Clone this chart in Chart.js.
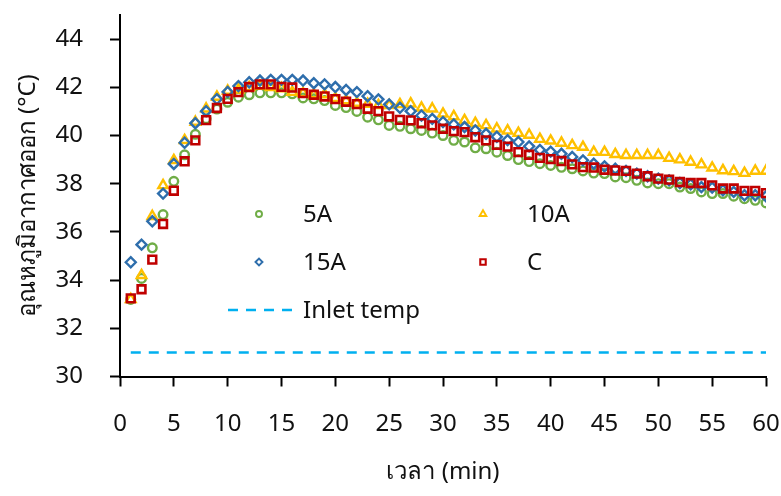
<!DOCTYPE html>
<html>
<head>
<meta charset="utf-8">
<script src="https://cdn.jsdelivr.net/npm/chart.js@4/dist/chart.umd.min.js"></script>
<style>
  html, body { margin: 0; padding: 0; background: #fff; }
  #wrap { width: 781px; height: 496px; }
</style>
</head>
<body>
<div id="wrap"><canvas id="chart" width="781" height="496"></canvas></div>
<script>
const minutes = [1,2,3,4,5,6,7,8,9,10,11,12,13,14,15,16,17,18,19,20,21,22,23,24,25,26,27,28,29,30,
  31,32,33,34,35,36,37,38,39,40,41,42,43,44,45,46,47,48,49,50,51,52,53,54,55,56,57,58,59,60];

const temp5A = [33.2,34.07,35.34,36.72,38.1,39.2,40.05,40.7,41.1,41.38,41.59,41.69,41.77,41.77,41.77,41.73,41.56,41.52,41.45,41.25,
  41.16,41.0,40.76,40.65,40.42,40.38,40.28,40.21,40.1,40.0,39.8,39.73,39.49,39.45,39.31,39.17,39.0,38.92,38.83,38.76,
  38.68,38.62,38.53,38.44,38.42,38.28,38.25,38.14,38.03,38.0,38.0,37.86,37.8,37.66,37.59,37.59,37.48,37.38,37.31,37.2];

const temp10A = [33.2,34.2,36.65,37.93,38.97,39.8,40.56,41.11,41.6,41.85,41.9,42.0,42.05,42.0,41.95,41.8,41.75,41.7,41.7,41.55,
  41.45,41.35,41.3,41.25,41.25,41.29,41.32,41.15,41.11,40.9,40.79,40.63,40.51,40.42,40.28,40.2,40.1,40.02,39.85,39.78,
  39.69,39.59,39.52,39.31,39.31,39.22,39.18,39.18,39.18,39.18,39.06,39.0,38.9,38.79,38.66,38.55,38.51,38.44,38.53,38.53];

const temp15A = [34.74,35.47,36.44,37.59,38.82,39.7,40.51,41.01,41.51,41.81,42.05,42.21,42.28,42.31,42.31,42.31,42.28,42.17,42.12,42.01,
  41.89,41.8,41.63,41.5,41.29,41.15,41.01,40.83,40.69,40.56,40.46,40.35,40.21,40.07,39.95,39.81,39.73,39.55,39.4,39.33,
  39.24,39.11,38.97,38.83,38.72,38.62,38.53,38.42,38.31,38.21,38.14,38.03,37.97,37.86,37.84,37.73,37.66,37.52,37.52,37.48];

const tempC = [33.24,33.62,34.85,36.33,37.71,38.93,39.8,40.64,41.14,41.52,41.8,42.01,42.12,42.12,42.02,41.99,41.76,41.69,41.62,41.51,
  41.4,41.3,41.11,41.01,40.79,40.65,40.63,40.51,40.42,40.28,40.18,40.14,39.93,39.8,39.61,39.54,39.31,39.2,39.07,39.02,
  38.94,38.8,38.69,38.67,38.58,38.55,38.53,38.42,38.31,38.21,38.17,38.07,38.03,38.03,37.93,37.8,37.8,37.7,37.7,37.61];

const inletTemp = [31,31,31,31,31,31,31,31,31,31,31,31,31,31,31,31,31,31,31,31,
  31,31,31,31,31,31,31,31,31,31,31,31,31,31,31,31,31,31,31,31,
  31,31,31,31,31,31,31,31,31,31,31,31,31,31,31,31,31,31,31,31];

const seriesNames = ['5A', '10A', '15A', 'C', 'Inlet temp'];
const xTicks = [0,5,10,15,20,25,30,35,40,45,50,55,60];
const yTicks = [30,32,34,36,38,40,42,44];

const FONT = "'Noto Sans', 'DejaVu Sans', sans-serif";
const FSIZE = 24;
const DASH = [10, 8];

function pts(values) {
  return values.map((v, i) => ({ x: minutes[i], y: v }));
}

function scatterSet(label, values, color, style, radius, bw, order) {
  return {
    label: label,
    data: pts(values),
    showLine: false,
    pointStyle: style,
    pointRadius: radius,
    pointHoverRadius: radius,
    pointBorderColor: color,
    pointBackgroundColor: 'rgba(0,0,0,0)',
    pointBorderWidth: bw,
    borderColor: color,
    backgroundColor: 'rgba(0,0,0,0)',
    order: order
  };
}

const datasets = [
  scatterSet(seriesNames[0], temp5A, '#70ad47', 'circle', 4.3, 2.4, 4),
  scatterSet(seriesNames[1], temp10A, '#ffc000', 'triangle', 5.5, 2.4, 3),
  scatterSet(seriesNames[2], temp15A, '#2e6eac', 'rectRot', 5, 2.4, 2),
  scatterSet(seriesNames[3], tempC, '#c00000', 'rect', 5.5, 2.6, 1),
  {
    label: seriesNames[4],
    data: pts(inletTemp),
    showLine: true,
    borderColor: '#00b0f0',
    borderWidth: 2.5,
    borderDash: DASH,
    pointRadius: 0,
    fill: false,
    order: 5
  }
];

// legend sits inside the plot, two columns
const legendPlugin = {
  id: 'insideLegend',
  afterDraw(chart) {
    const ctx = chart.ctx;
    const spots = [
      { ds: 0, mx: 259, tx: 303, y: 215 },
      { ds: 1, mx: 483, tx: 527, y: 215 },
      { ds: 2, mx: 259, tx: 303, y: 263 },
      { ds: 3, mx: 483, tx: 527, y: 263 },
      { ds: 4, mx: 260, tx: 303, y: 311 }
    ];
    spots.forEach(s => {
      const d = chart.data.datasets[s.ds];
      ctx.save();
      if (d.showLine) {
        ctx.strokeStyle = d.borderColor;
        ctx.lineWidth = d.borderWidth;
        ctx.setLineDash(DASH);
        ctx.beginPath();
        ctx.moveTo(228, s.y - 1);
        ctx.lineTo(294, s.y - 1);
        ctx.stroke();
      } else {
        ctx.strokeStyle = d.pointBorderColor;
        ctx.fillStyle = 'rgba(0,0,0,0)';
        ctx.lineWidth = d.pointBorderWidth * 0.8;
        Chart.helpers.drawPoint(ctx, {
          pointStyle: d.pointStyle,
          radius: d.pointRadius * 0.7,
          borderWidth: d.pointBorderWidth * 0.8,
          rotation: 0
        }, s.mx, s.y - 1);
      }
      ctx.restore();
      ctx.save();
      ctx.font = FSIZE + 'px ' + FONT;
      ctx.fillStyle = '#111';
      ctx.textBaseline = 'middle';
      ctx.textAlign = 'left';
      ctx.fillText(d.label, s.tx, s.y);
      ctx.restore();
    });
  }
};

new Chart(document.getElementById('chart'), {
  type: 'scatter',
  data: { datasets: datasets },
  options: {
    responsive: false,
    animation: false,
    layout: { padding: { top: 15, right: 15, left: 0, bottom: 0 } },
    plugins: {
      legend: { display: false },
      tooltip: { enabled: false }
    },
    scales: {
      x: {
        type: 'linear',
        min: 0,
        max: 60,
        afterFit: s => { s.height = 119.5; s.paddingLeft = 0; s.paddingRight = 0; },
        afterBuildTicks: s => { s.ticks = xTicks.map(v => ({ value: v })); },
        border: { color: '#000', width: 2 },
        grid: { drawOnChartArea: false, drawTicks: true, tickLength: 10, tickColor: '#000', tickWidth: 2 },
        ticks: { color: '#111', padding: 23, font: { family: FONT, size: FSIZE }, maxRotation: 0 },
        title: {
          display: true,
          text: 'เวลา (min)',
          color: '#111',
          font: { family: FONT, size: FSIZE },
          padding: { top: 0, bottom: 9 }
        }
      },
      y: {
        min: 30,
        max: 45,
        afterFit: s => { s.width = 120; s.paddingTop = 0; s.paddingBottom = 0; },
        afterBuildTicks: s => { s.ticks = yTicks.map(v => ({ value: v })); },
        border: { color: '#000', width: 2 },
        grid: { drawOnChartArea: false, drawTicks: true, tickLength: 10, tickColor: '#000', tickWidth: 2 },
        ticks: { color: '#111', padding: 27, font: { family: FONT, size: FSIZE } },
        title: {
          display: true,
          text: 'อุณหภูมิอากาศออก (°C)',
          color: '#111',
          font: { family: FONT, size: FSIZE },
          padding: { top: 14, bottom: 0 }
        }
      }
    }
  },
  plugins: [legendPlugin]
});
</script>
</body>
</html>
